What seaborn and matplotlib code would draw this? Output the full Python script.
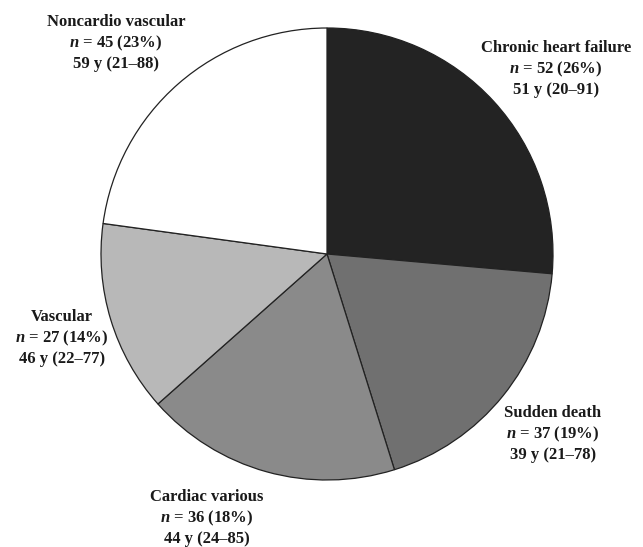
import matplotlib
matplotlib.use('Agg')
import matplotlib.pyplot as plt
import seaborn as sns

# --- Data ---
categories = ['Chronic heart failure', 'Sudden death', 'Cardiac various',
              'Vascular', 'Noncardio vascular']
counts = [52, 37, 36, 27, 45]
percents = [26, 19, 18, 14, 23]
ages = ['51 y (20\u201391)', '39 y (21\u201378)', '44 y (24\u201385)',
        '46 y (22\u201377)', '59 y (21\u201388)']
colors = ['#232323', '#707070', '#8a8a8a', '#b8b8b8', '#ffffff']

# label anchor positions in pixels (x centre, y of first line)
label_pos = [(556, 48), (553, 413), (207, 497), (62, 317), (116, 22)]

W, H = 643, 547

sns.set_theme(style='white')
plt.rcParams['font.family'] = ['Liberation Serif', 'DejaVu Serif']
plt.rcParams['mathtext.fontset'] = 'custom'
plt.rcParams['mathtext.it'] = 'Liberation Serif:italic:bold'
plt.rcParams['mathtext.rm'] = 'Liberation Serif:bold'

fig = plt.figure(figsize=(W / 100, H / 100), dpi=100)
ax = fig.add_axes([0, 0, 1, 1])

ax.pie(counts, colors=colors, startangle=90, counterclock=False,
       center=(327, H - 254), radius=226,
       wedgeprops={'edgecolor': '#222222', 'linewidth': 0.9})
ax.set_xlim(0, W)
ax.set_ylim(0, H)
ax.set_aspect('equal')
ax.axis('off')

fs = 12
step = 21
for cat, n, p, age, (x, y) in zip(categories, counts, percents, ages, label_pos):
    ax.text(x, H - y, cat, ha='center', va='center', fontsize=fs,
            fontweight='bold', color='#1a1a1a')
    ax.text(x, H - y - step, f'$n$ = {n} ({p}%)', ha='center', va='center',
            fontsize=fs, fontweight='bold', color='#1a1a1a')
    ax.text(x, H - y - 2 * step, age, ha='center', va='center',
            fontsize=fs, fontweight='bold', color='#1a1a1a')

fig.savefig('out.png', dpi=100, facecolor='white')
plt.close()
